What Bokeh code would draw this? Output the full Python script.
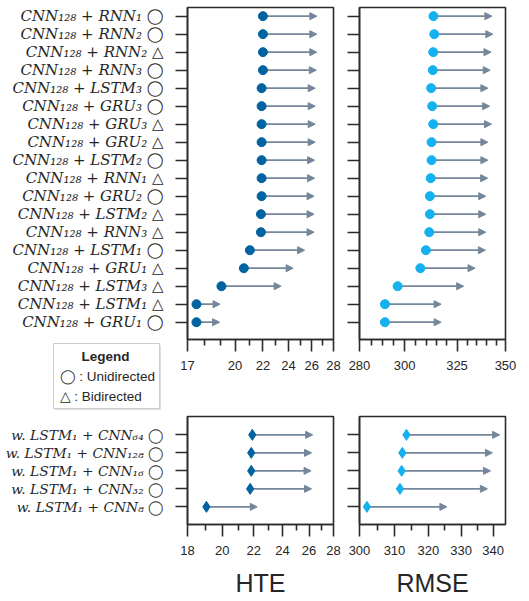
from bokeh.plotting import figure
from bokeh.layouts import column, row
from bokeh.models import (Range1d, FixedTicker, PrintfTickFormatter, Arrow, NormalHead,
                          ColumnDataSource, CustomLabelingPolicy)
from bokeh.core.properties import value
from bokeh.embed import file_html
from bokeh.resources import INLINE

# ---------------- data (top to bottom) ----------------
top_labels = [
    "CNN₁₂₈ + RNN₁ ◯", "CNN₁₂₈ + RNN₂ ◯", "CNN₁₂₈ + RNN₂ △", "CNN₁₂₈ + RNN₃ ◯",
    "CNN₁₂₈ + LSTM₃ ◯", "CNN₁₂₈ + GRU₃ ◯", "CNN₁₂₈ + GRU₃ △", "CNN₁₂₈ + GRU₂ △",
    "CNN₁₂₈ + LSTM₂ ◯", "CNN₁₂₈ + RNN₁ △", "CNN₁₂₈ + GRU₂ ◯", "CNN₁₂₈ + LSTM₂ △",
    "CNN₁₂₈ + RNN₃ △", "CNN₁₂₈ + LSTM₁ ◯", "CNN₁₂₈ + GRU₁ △", "CNN₁₂₈ + LSTM₃ △",
    "CNN₁₂₈ + LSTM₁ △", "CNN₁₂₈ + GRU₁ ◯",
]
top_hte_start = [22.0, 22.0, 22.0, 22.0, 21.9, 21.9, 21.9, 21.9, 21.9, 21.9, 21.9, 21.85,
                 21.85, 21.04, 20.61, 19.09, 17.53, 17.53]
top_hte_end = [26.45, 26.45, 26.45, 26.4, 26.3, 26.3, 26.3, 26.3, 26.25, 26.25, 26.2, 26.2,
               26.2, 25.37, 24.39, 23.41, 19.0, 18.97]
top_rmse_start = [313.5, 313.9, 313.4, 313.2, 312.4, 312.9, 313.4, 312.6, 312.6, 312.2, 311.8,
                  311.8, 311.5, 309.9, 307.3, 296.8, 291.1, 291.1]
top_rmse_end = [342.8, 343.3, 342.3, 341.9, 340.7, 341.6, 342.6, 340.7, 340.7, 340.6, 339.6,
                339.6, 339.6, 339.4, 334.1, 328.3, 317.2, 317.2]

bot_labels = ["w. LSTM₁ + CNN₆₄ ◯", "w. LSTM₁ + CNN₁₂₈ ◯", "w. LSTM₁ + CNN₁₆ ◯",
              "w. LSTM₁ + CNN₃₂ ◯", "w. LSTM₁ + CNN₈ ◯"]
bot_hte_start = [21.9, 21.83, 21.83, 21.76, 19.06]
bot_hte_end = [26.29, 26.2, 26.16, 26.2, 22.23]
bot_rmse_start = [313.5, 312.3, 312.1, 311.6, 302.1]
bot_rmse_end = [342.1, 339.8, 339.2, 338.2, 325.6]

top_hte_ticks = [17, 20, 22, 24, 26, 28]
top_hte_minor = [18, 19, 21, 23, 25, 27]
top_rmse_ticks = [280, 300, 325, 350]
top_rmse_minor = [285, 290, 295, 305, 310, 315, 320, 330, 335, 340, 345]
bot_hte_ticks = [18, 20, 22, 24, 26, 28]
bot_hte_minor = [19, 21, 23, 25, 27]
bot_rmse_ticks = [300, 310, 320, 330, 340]
bot_rmse_minor = [305, 315, 325, 335]

legend_title = "Legend"
legend_items = ["◯ : Unidirected", "△ : Bidirected"]

# ---------------- style ----------------
DARK = "#2b2b2b"
TEXT = "#262626"
HTE_C = "#0063a1"
RMSE_C = "#13b1ef"
ARROW_C = "#74869a"
SANS = "Liberation Sans"
SERIF = "DejaVu Serif"
LW = 1.6
LAB_W = 173          # width of the label column
LAB_RIGHT = 163      # right end of the row labels inside the label column


def blank_fig(w, frame_h, top, bottom, yr, xr):
    p = figure(x_range=xr, y_range=yr, frame_width=w, frame_height=frame_h,
               min_border_left=0, min_border_right=0, min_border_top=top, min_border_bottom=bottom,
               x_axis_location=None, y_axis_location=None, toolbar_location=None,
               output_backend="svg")
    p.xgrid.visible = False
    p.ygrid.visible = False
    p.outline_line_color = None
    return p


def make_fig(xr, yr, fh, left, right, top, bottom, ticks, minor, nrows):
    p = figure(x_axis_type="log", x_range=xr, y_range=yr, frame_width=146, frame_height=fh,
               min_border_left=left, min_border_right=right, min_border_top=top,
               min_border_bottom=bottom, toolbar_location=None, output_backend="svg")
    p.xgrid.visible = False
    p.ygrid.visible = False
    p.outline_line_color = DARK
    p.outline_line_width = LW
    p.xaxis.ticker = FixedTicker(ticks=ticks, minor_ticks=minor)
    p.xaxis.formatter = PrintfTickFormatter(format="%d")
    p.yaxis.ticker = FixedTicker(ticks=list(range(nrows)))
    p.yaxis.minor_tick_line_color = None
    p.yaxis.major_label_overrides = {i: "" for i in range(nrows)}
    p.yaxis.major_label_policy = CustomLabelingPolicy(code="return []")
    p.yaxis.major_label_standoff = 0
    for ax in p.xaxis + p.yaxis:
        ax.axis_line_color = DARK
        ax.axis_line_width = LW
        ax.major_tick_line_color = DARK
        ax.major_tick_line_width = LW
        ax.major_tick_in = 0
        ax.major_tick_out = 12
        ax.major_label_text_color = TEXT
    for ax in p.xaxis:
        ax.minor_tick_line_color = DARK
        ax.minor_tick_line_width = LW
        ax.minor_tick_in = 0
        ax.minor_tick_out = 6
        ax.major_label_text_font = SANS
        ax.major_label_text_font_size = "13px"
        ax.major_label_standoff = 9
    return p


def add_series(p, starts, ends, color, marker, size):
    n = len(starts)
    ys = [n - 1 - i for i in range(n)]
    src = ColumnDataSource(dict(s=starts, e=ends, y=ys))
    p.add_layout(Arrow(end=NormalHead(size=7, fill_color=ARROW_C, line_color=ARROW_C, line_width=1),
                       x_start="s", y_start="y", x_end="e", y_end="y", source=src,
                       line_color=ARROW_C, line_width=1.8, level="underlay"))
    p.scatter(x="s", y="y", source=src, marker=marker, size=size, color=color)


def add_row_labels(p, labels, size):
    n = len(labels)
    src = ColumnDataSource(dict(y=[n - 1 - i for i in range(n)], t=labels))
    p.text(x=LAB_RIGHT, y="y", text="t", source=src, text_font=value(SERIF),
           text_font_style="italic", text_font_size=size, text_color=TEXT,
           text_align="right", text_baseline="middle")


nt = len(top_labels)
nb = len(bot_labels)
top_yr = (-0.96, nt - 1 + 0.48)
bot_yr = (-0.98, nb - 1 + 1.02)

# ---- top row ----
labTop = blank_fig(LAB_W, 332, 7, 0, Range1d(*top_yr), Range1d(0, LAB_W))
add_row_labels(labTop, top_labels, "15px")

LEG_H = 73
legFig = blank_fig(LAB_W, LEG_H, 0, 0, Range1d(0, LEG_H), Range1d(0, LAB_W))
# shadow + box
legFig.quad(left=[54.5], right=[160.5], top=[67.5], bottom=[2.5], fill_color="black",
            fill_alpha=0.13, line_color=None)
legFig.quad(left=[53], right=[159], top=[69], bottom=[4], fill_color="white",
            line_color="#cccccc", line_width=1)
legFig.text(x=[105], y=[56], text=[legend_title], text_font=value(SANS), text_font_style="bold",
            text_font_size="13.5px", text_color=TEXT, text_align="center", text_baseline="middle")
legFig.text(x=[59, 59], y=[36, 16], text=legend_items, text_font=value(SANS),
            text_font_size="13.5px", text_color=TEXT, text_align="left", text_baseline="middle")

pA = make_fig(Range1d(17, 28), Range1d(*top_yr), 332, 14, 13, 7, LEG_H,
              top_hte_ticks, top_hte_minor, nt)
add_series(pA, top_hte_start, top_hte_end, HTE_C, "circle", 9)

pB = make_fig(Range1d(280, 350), Range1d(*top_yr), 332, 13, 23, 7, LEG_H,
              top_rmse_ticks, top_rmse_minor, nt)
add_series(pB, top_rmse_start, top_rmse_end, RMSE_C, "circle", 9)

# ---- bottom row ----
labBot = blank_fig(LAB_W, 108, 4, 76, Range1d(*bot_yr), Range1d(0, LAB_W))
add_row_labels(labBot, bot_labels, "13.8px")

pC = make_fig(Range1d(18, 28), Range1d(*bot_yr), 108, 14, 13, 4, 76,
              bot_hte_ticks, bot_hte_minor, nb)
pC.xaxis.axis_label = "HTE"
add_series(pC, bot_hte_start, bot_hte_end, HTE_C, "diamond", 11)

pD = make_fig(Range1d(300, 344), Range1d(*bot_yr), 108, 13, 23, 4, 76,
              bot_rmse_ticks, bot_rmse_minor, nb)
pD.xaxis.axis_label = "RMSE"
add_series(pD, bot_rmse_start, bot_rmse_end, RMSE_C, "diamond", 11)

for p in (pC, pD):
    p.xaxis.axis_label_text_font = SANS
    p.xaxis.axis_label_text_font_size = "25px"
    p.xaxis.axis_label_text_font_style = "normal"
    p.xaxis.axis_label_text_color = TEXT
    p.xaxis.axis_label_standoff = 11

layout = column(row(column(labTop, legFig), pA, pB), row(labBot, pC, pD))

with open("out.html", "w") as f:
    f.write(file_html(layout, INLINE))
